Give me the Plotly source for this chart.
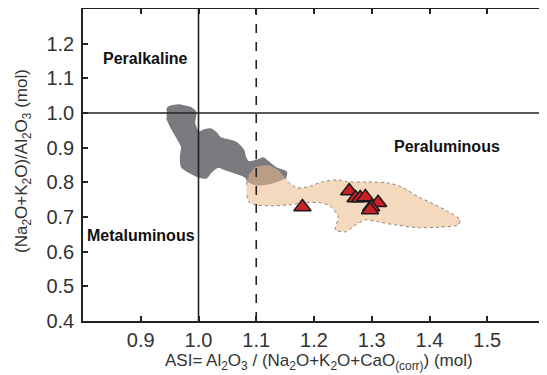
import plotly.graph_objects as go

# Field outlines
gray_x = [0.945, 0.948, 0.965, 0.988, 0.995, 0.993, 1.000, 1.010, 1.021, 1.031, 1.038, 1.052, 1.066, 1.078,
          1.081, 1.087, 1.104, 1.112, 1.121, 1.135, 1.152, 1.151, 1.142, 1.126, 1.104, 1.087, 1.081, 1.064,
          1.047, 1.035, 1.022, 1.014, 1.000, 0.986, 0.971, 0.969, 0.971, 0.962, 0.952, 0.945]
gray_y = [1.009, 1.017, 1.023, 1.014, 1.003, 0.971, 0.945, 0.951, 0.954, 0.942, 0.928, 0.922, 0.914, 0.893,
          0.873, 0.859, 0.865, 0.870, 0.859, 0.841, 0.830, 0.816, 0.807, 0.798, 0.793, 0.801, 0.816, 0.827,
          0.836, 0.844, 0.830, 0.813, 0.816, 0.827, 0.844, 0.873, 0.902, 0.931, 0.960, 0.986]

tan_x = [1.083, 1.087, 1.099, 1.121, 1.138, 1.156, 1.170, 1.190, 1.213, 1.242, 1.260, 1.299, 1.329, 1.351,
         1.381, 1.410, 1.433, 1.453, 1.450, 1.420, 1.381, 1.341, 1.311, 1.289, 1.272, 1.254, 1.237, 1.242,
         1.230, 1.213, 1.185, 1.156, 1.126, 1.099, 1.087, 1.083]
tan_y = [0.793, 0.821, 0.844, 0.850, 0.836, 0.801, 0.784, 0.787, 0.801, 0.807, 0.801, 0.801, 0.798, 0.787,
         0.758, 0.735, 0.715, 0.692, 0.677, 0.671, 0.669, 0.677, 0.686, 0.692, 0.677, 0.657, 0.663, 0.700,
         0.729, 0.741, 0.741, 0.735, 0.732, 0.735, 0.744, 0.769]

# Samples
asi = [1.180, 1.261, 1.272, 1.280, 1.289, 1.311, 1.299, 1.297]
ank = [0.729, 0.775, 0.755, 0.755, 0.758, 0.741, 0.729, 0.720]

# Reference lines
asi_solid = [1.0]
asi_dashed = [1.1]
ank_solid = [1.0]

x_ticks = [0.9, 1.0, 1.1, 1.2, 1.3, 1.4, 1.5]
y_ticks = [0.4, 0.5, 0.6, 0.7, 0.8, 0.9, 1.0, 1.1, 1.2]

field_labels = ["Peralkaline", "Peraluminous", "Metaluminous"]
label_x = [0.908, 1.431, 0.901]
label_y = [1.158, 0.902, 0.648]

x_title = "ASI= Al<sub>2</sub>O<sub>3</sub> / (Na<sub>2</sub>O+K<sub>2</sub>O+CaO<sub>(corr)</sub>) (mol)"
y_title = "(Na<sub>2</sub>O+K<sub>2</sub>O)/Al<sub>2</sub>O<sub>3</sub> (mol)"

FONT = "Liberation Sans, Arial"

fig = go.Figure()
fig.add_trace(go.Scatter(x=gray_x, y=gray_y, mode="lines", fill="toself",
                         fillcolor="rgb(122,122,127)", line=dict(color="rgb(122,122,127)", width=1.5, shape="spline", smoothing=0.6),
                         hoverinfo="skip", showlegend=False))
fig.add_trace(go.Scatter(x=tan_x, y=tan_y, mode="lines", fill="toself",
                         fillcolor="rgba(236,186,136,0.55)", line=dict(color="rgb(140,130,120)", width=1, dash="dot", shape="spline", smoothing=0.6),
                         hoverinfo="skip", showlegend=False))

for v in asi_solid:
    fig.add_vline(x=v, line=dict(color="#222", width=1.6))
for v in asi_dashed:
    fig.add_vline(x=v, line=dict(color="#222", width=1.6, dash="dash"))
for v in ank_solid:
    fig.add_hline(y=v, line=dict(color="#222", width=1.6))

fig.add_trace(go.Scatter(x=asi, y=ank, mode="markers",
                         marker=dict(symbol="triangle-up", size=15, color="rgb(204,32,40)",
                                     line=dict(color="#1a1a1a", width=1.5)),
                         showlegend=False))

for t, x, y in zip(field_labels, label_x, label_y):
    fig.add_annotation(x=x, y=y, text="<b>%s</b>" % t, showarrow=False,
                       font=dict(family=FONT, size=16, color="#111"))

fig.add_annotation(xref="paper", yref="paper", x=0.511, y=0, yanchor="middle", yshift=-41,
                   text=x_title, showarrow=False, font=dict(family=FONT, size=17, color="#333"))
fig.add_annotation(xref="paper", yref="paper", x=0, y=0.513, xanchor="center", xshift=-60,
                   text=y_title, textangle=-90, showarrow=False, font=dict(family=FONT, size=17, color="#333"))

axis_common = dict(showline=True, linecolor="#222", linewidth=1.5, mirror="ticks",
                   ticks="inside", ticklen=5, tickwidth=1.5, tickcolor="#222",
                   showgrid=False, zeroline=False, automargin=False,
                   tickfont=dict(family=FONT, size=20, color="#333"))

fig.update_xaxes(range=[0.8, 1.6], tickvals=x_ticks, ticktext=["%.1f" % v for v in x_ticks], **axis_common)
fig.update_yaxes(range=[0.4, 1.3], tickvals=y_ticks, ticktext=["%.1f" % v for v in y_ticks],
                 ticklabelstandoff=3, **axis_common)

# page body adds an 8px offset; margins compensate so the plot box lands where the reference has it
fig.update_layout(width=547, height=375, margin=dict(l=75, r=10, t=1, b=62),
                  plot_bgcolor="white", paper_bgcolor="white")

fig.write_html("out.html")
